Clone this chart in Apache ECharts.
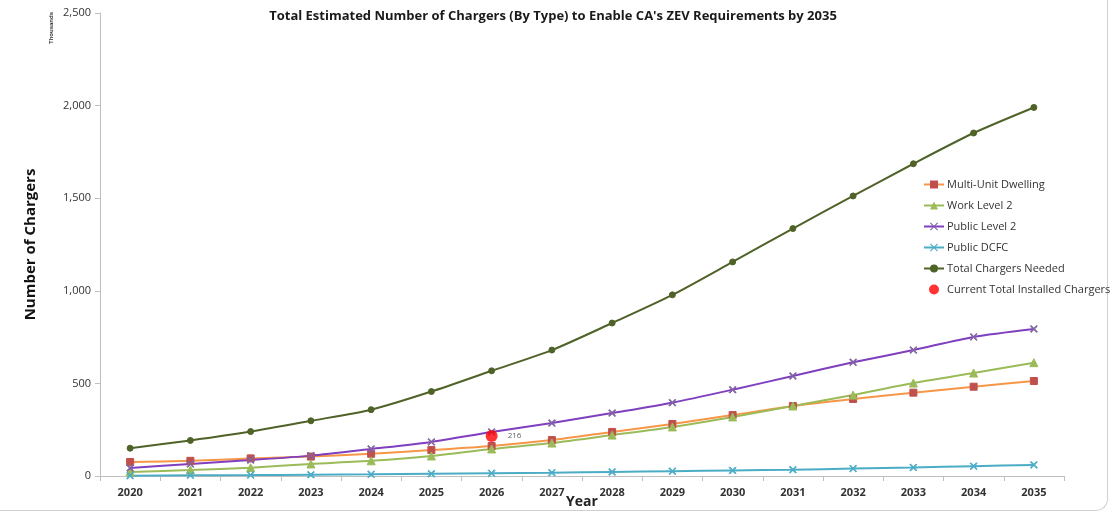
<!DOCTYPE html>
<html><head><meta charset="utf-8">
<script src="https://cdn.jsdelivr.net/npm/echarts@6/dist/echarts.min.js"></script>
<style>
html,body{margin:0;padding:0;background:#fff;}
#frame{position:absolute;left:0;top:0;width:1107px;height:510px;border:1px solid #d0d0d0;border-radius:0 0 12px 0;border-top:none;border-left:none;}
#c{position:absolute;left:0;top:0;width:1111px;height:514px;}
</style></head>
<body><div id="frame"></div><div id="c"></div>
<script>
const years = ['2020','2021','2022','2023','2024','2025','2026','2027','2028','2029','2030','2031','2032','2033','2034','2035'];
const multiUnit = [76, 82, 95, 105, 120, 140, 162, 194, 238, 281, 329, 378, 416, 450, 482, 513];
const workL2 = [22, 32, 45, 65, 82, 108, 146, 178, 221, 265, 319, 378, 437, 502, 556, 612];
const publicL2 = [43, 65, 86, 110, 146, 184, 238, 286, 340, 396, 466, 540, 614, 680, 751, 794];
const publicDCFC = [2, 4, 5, 7, 9, 12, 15, 18, 22, 26, 30, 34, 40, 46, 53, 60];
const totalNeeded = [150, 192, 240, 298, 358, 456, 568, 680, 826, 978, 1156, 1336, 1512, 1686, 1852, 1990];
const currentInstalled = [null, null, null, null, null, null, 216, null, null, null, null, null, null, null, null, null];

const xSym = 'path://M0,1L1,0L5,4L9,0L10,1L6,5L10,9L9,10L5,6L1,10L0,9L4,5Z';
const chart = echarts.init(document.getElementById('c'));
function line(name, data, color, mcolor, symbol, size){
  return {name, type:'line', data, smooth:0.25, symbol, symbolSize:size,
    lineStyle:{color, width:2}, itemStyle:{color:mcolor, borderColor:mcolor}, z:2};
}
chart.setOption({
  animation:false,
  textStyle:{fontFamily:'"Open Sans", "Liberation Sans", sans-serif'},
  title:{text:"Total Estimated Number of Chargers (By Type) to Enable CA's ZEV Requirements by 2035",
    left:548, textAlign:'center', top:5, textStyle:{fontSize:13, fontWeight:'bold', color:'#1a1a1a'}},
  grid:{left:100, right:47, top:13, bottom:38, outerBoundsMode:'none', containLabel:false},
  legend:{orient:'vertical', left:918, top:174, itemGap:10, itemWidth:20, itemHeight:10,
    textStyle:{fontSize:11, color:'#333', padding:[0,0,0,-2]},
    data:['Multi-Unit Dwelling','Work Level 2','Public Level 2','Public DCFC','Total Chargers Needed','Current Total Installed Chargers']},
  xAxis:{type:'category', data:years, boundaryGap:true,
    name:'Year', nameLocation:'middle', nameGap:19, nameMoveOverlap:false,
    nameTextStyle:{fontSize:14, fontWeight:'bold', color:'#222'},
    axisLine:{lineStyle:{color:'#bfbfbf'}}, axisTick:{show:true, alignWithLabel:false, lineStyle:{color:'#bfbfbf'}},
    axisLabel:{fontSize:11, color:'#333', fontWeight:'bold', margin:11}},
  yAxis:{type:'value', min:0, max:2500, interval:500,
    name:'Number of Chargers', nameLocation:'middle', nameGap:62, nameRotate:90, nameMoveOverlap:false,
    nameTextStyle:{fontSize:15, fontWeight:'bold', color:'#111'},
    axisLine:{show:true, lineStyle:{color:'#bfbfbf'}}, axisTick:{show:true, inside:false, length:5, lineStyle:{color:'#bfbfbf'}},
    splitLine:{show:false},
    axisLabel:{fontSize:11, color:'#333', margin:9, formatter:v=>v.toLocaleString('en-US')}},
  graphic:[{type:'text', left:48, top:12, rotation:Math.PI/2, style:{text:'Thousands', fontSize:6, fill:'#333', fontWeight:'bold'}}],
  series:[
    line('Multi-Unit Dwelling', multiUnit, '#F79646', '#C0504D', 'rect', 7),
    line('Work Level 2', workL2, '#9BBB59', '#9BBB59', 'triangle', 8),
    line('Public Level 2', publicL2, '#7F3FBF', '#8064A2', xSym, 7),
    line('Public DCFC', publicDCFC, '#4BACC6', '#4BACC6', xSym, 7),
    line('Total Chargers Needed', totalNeeded, '#4F6228', '#4F6228', 'circle', 6),
    {name:'Current Total Installed Chargers', type:'scatter', data:currentInstalled, symbol:'circle', symbolSize:12,
      itemStyle:{color:'#FF0000'}, z:5,
      label:{show:true, position:'right', distance:10, fontSize:8, color:'#333', formatter:p=>p.value}}
  ]
});
</script></body></html>
